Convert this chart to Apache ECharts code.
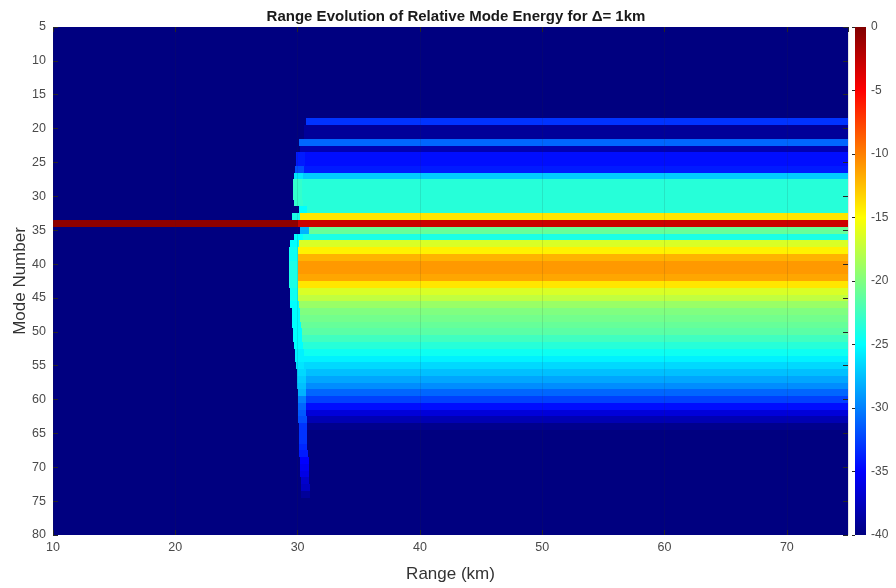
<!DOCTYPE html>
<html>
<head>
<meta charset="utf-8">
<script src="https://cdn.jsdelivr.net/npm/echarts@6/dist/echarts.min.js"></script>
<style>
  html, body { margin: 0; padding: 0; background: #fff; }
  #chart { width: 896px; height: 588px; }
</style>
</head>
<body>
<div id="chart"></div>
<script>
// Mode numbers shown on the vertical axis (one row per mode)
const modeNumbers = [5, 6, 7, 8, 9, 10, 11, 12, 13, 14, 15, 16, 17, 18, 19, 20,
  21, 22, 23, 24, 25, 26, 27, 28, 29, 30, 31, 32, 33, 34, 35, 36, 37, 38, 39, 40,
  41, 42, 43, 44, 45, 46, 47, 48, 49, 50, 51, 52, 53, 54, 55, 56, 57, 58, 59, 60,
  61, 62, 63, 64, 65, 66, 67, 68, 69, 70, 71, 72, 73, 74, 75, 76, 77, 78, 79, 80];

// Relative energy (dB) of each mode once the field has settled past the front
const steadyDb = [-40, -40, -40, -40, -40, -40, -40, -40, -40, -40, -40, -40, -40, -40,
  -33, -39, -39, -31, -38, -34.5, -34.5, -34, -27, -23.5, -23.5, -23.5, -23.5, -23.5,
  -14, -3, -21, -24, -16.5, -14.5, -12, -11, -11, -11.5, -14, -16.5, -17.5, -19,
  -20, -20.5, -21, -21.5, -22.5, -23.5, -24.5, -25.5, -26.5, -27.5, -28.5, -29.5,
  -31, -32.5, -34.5, -36.5, -38, -39.5,
  -40, -40, -40, -40, -40, -40, -40, -40, -40, -40, -40, -40, -40, -40, -40, -40];

// Range (km) at which energy first reaches each mode
const frontKm = [30.3, 30.3, 30.3, 30.3, 30.3, 30.3, 30.3, 30.3, 30.3, 30.3, 30.3, 30.3, 30.3, 30.3,
  30.7, 30.5, 30.5, 30.1, 30.2, 29.9, 29.9, 29.8, 29.7, 29.65, 29.65, 29.65, 29.7, 30.1,
  29.5, 30.0, 30.2, 29.7, 29.4, 29.3, 29.3, 29.3, 29.3, 29.3, 29.3, 29.35, 29.35, 29.4,
  29.5, 29.5, 29.55, 29.65, 29.65, 29.7, 29.8, 29.8, 29.85, 29.95, 29.95, 29.95,
  30.0, 30.0, 30.0, 30.0, 30.05, 30.1, 30.1, 30.1, 30.1, 30.15, 30.2, 30.2, 30.2, 30.25,
  30.3, 30.3, 30.3, 30.3, 30.3, 30.3, 30.3, 30.3];

// Relative energy (dB) right at the front, before the field settles
const frontDb = [-40, -40, -40, -40, -40, -40, -40, -40, -40, -40, -40, -40, -40, -40,
  -33, -39, -39, -31, -38, -34, -34, -32, -26, -23, -23, -23, -23, -25,
  -24, -3, -28, -25, -25, -24.5, -24.5, -24, -24, -24, -24, -24.5, -24.5, -25,
  -25, -25, -25, -25, -25, -25, -25.5, -25.5, -26, -26.5, -27, -27.5,
  -28, -30, -31, -31.5, -32, -33, -33, -33, -33.5, -34, -35, -35.5, -36, -37,
  -37.5, -39, -40, -40, -40, -40, -40, -40];

// Source mode carried from the start of the track, and the empty background level
const launchMode = 34;
const launchDb = -0.5;
const backgroundDb = -40;
const frontWidthKm = 0.7;

// Axis extents and tick labels
const rangeMinKm = 10, rangeMaxKm = 75;
const rangeTicks = [10, 20, 30, 40, 50, 60, 70];
const modeMin = 5, modeMax = 80;
const modeTicks = [5, 10, 15, 20, 25, 30, 35, 40, 45, 50, 55, 60, 65, 70, 75, 80];
const colorTicks = [-40, -35, -30, -25, -20, -15, -10, -5, 0];

// Jet colour map, low to high
const jet = ['#000080', '#0000ff', '#0080ff', '#00ffff', '#80ff80',
             '#ffff00', '#ff8000', '#ff0000', '#800000'];

// One horizontal segment per row span: [rangeStart, rangeEnd, mode, dB]
const segments = [];
modeNumbers.forEach((m, i) => {
  const pre = m === launchMode ? launchDb : backgroundDb;
  const f = frontKm[i];
  segments.push([rangeMinKm, f, m, pre]);
  segments.push([f, f + frontWidthKm, m, frontDb[i]]);
  segments.push([f + frontWidthKm, rangeMaxKm, m, steadyDb[i]]);
});

// Rows are snapped to whole pixels so neighbouring spans meet without seams
function renderSegment(params, api) {
  const a = api.coord([api.value(0), api.value(2) - 0.5]);
  const b = api.coord([api.value(1), api.value(2) + 0.5]);
  const cs = params.coordSys;
  const x0 = Math.round(Math.max(cs.x, Math.min(a[0], b[0])));
  const x1 = Math.round(Math.min(cs.x + cs.width, Math.max(a[0], b[0])));
  const y0 = Math.round(Math.max(cs.y, Math.min(a[1], b[1])));
  const y1 = Math.round(Math.min(cs.y + cs.height, Math.max(a[1], b[1])));
  if (x1 <= x0 || y1 <= y0) return null;
  return {
    type: 'rect',
    shape: { x: x0, y: y0, width: x1 - x0, height: y1 - y0 },
    style: { fill: api.visual('color'), stroke: null, lineWidth: 0 }
  };
}

function renderColorbar(params, api) {
  const a = api.coord([0, colorTicks[0]]);
  const b = api.coord([1, colorTicks[colorTicks.length - 1]]);
  const stops = jet.slice().reverse().map((c, k) => ({ offset: k / (jet.length - 1), color: c }));
  return {
    type: 'rect',
    shape: { x: a[0], y: b[1], width: b[0] - a[0], height: a[1] - b[1] },
    style: { fill: new echarts.graphic.LinearGradient(0, 0, 0, 1, stops), stroke: null }
  };
}

const font = "'Liberation Sans', Arial, Helvetica, sans-serif";
const tickColor = '#4a4a4a';

const chart = echarts.init(document.getElementById('chart'), null, { renderer: 'canvas' });
chart.setOption({
  animation: false,
  backgroundColor: '#ffffff',
  title: {
    text: 'Range Evolution of Relative Mode Energy for \u0394= 1km',
    left: 451,
    textAlign: 'center',
    top: 4,
    textStyle: { fontFamily: font, fontSize: 15, fontWeight: 'bold', color: '#1a1a1a' }
  },
  grid: [
    { left: 53, right: 48, top: 27, bottom: 53, containLabel: false, outerBoundsMode: 'none' },
    { left: 855, width: 11, top: 27, bottom: 53, containLabel: false, outerBoundsMode: 'none' }
  ],
  xAxis: [
    {
      type: 'value', gridIndex: 0, min: rangeMinKm, max: rangeMaxKm, interval: 10, z: 5,
      name: 'Range (km)', nameLocation: 'middle', nameGap: 31, nameMoveOverlap: false,
      nameTextStyle: { fontFamily: font, fontSize: 17, color: '#333' },
      axisLine: { show: false },
      axisTick: { inside: true, length: 5, lineStyle: { color: '#262626' } },
      axisLabel: {
        fontFamily: font, fontSize: 12.5, color: tickColor, margin: 6, showMaxLabel: false,
        formatter: v => (rangeTicks.indexOf(v) >= 0 ? String(v) : '')
      },
      splitLine: { show: true, lineStyle: { color: 'rgba(38,38,38,0.12)', width: 1 } }
    },
    {
      type: 'value', gridIndex: 0, position: 'top', min: rangeMinKm, max: rangeMaxKm, interval: 10, z: 5,
      axisLine: { show: false },
      axisTick: { inside: true, length: 5, lineStyle: { color: '#262626' } },
      axisLabel: { show: false },
      splitLine: { show: false }
    },
    { type: 'value', gridIndex: 1, min: 0, max: 1, show: false, splitLine: { show: false } }
  ],
  yAxis: [
    {
      type: 'value', gridIndex: 0, inverse: true, min: modeMin, max: modeMax, interval: 5, z: 5,
      name: 'Mode Number', nameLocation: 'middle', nameGap: 24, nameMoveOverlap: false,
      nameTextStyle: { fontFamily: font, fontSize: 17, color: '#333' },
      axisLine: { show: false },
      axisTick: { inside: true, length: 5, lineStyle: { color: '#262626' } },
      axisLabel: {
        fontFamily: font, fontSize: 12.5, color: tickColor, margin: 7,
        formatter: v => (modeTicks.indexOf(v) >= 0 ? String(v) : '')
      },
      splitLine: { show: false }
    },
    {
      type: 'value', gridIndex: 0, position: 'right', inverse: true, min: modeMin, max: modeMax, interval: 5, z: 5,
      axisLine: { show: false },
      axisTick: { inside: true, length: 5, lineStyle: { color: '#262626' } },
      axisLabel: { show: false },
      splitLine: { show: false }
    },
    {
      type: 'value', gridIndex: 1, position: 'right', min: -40, max: 0, interval: 5, z: 5,
      axisLine: { show: false },
      axisTick: { inside: true, length: 3, lineStyle: { color: '#262626' } },
      axisLabel: {
        fontFamily: font, fontSize: 12, color: tickColor, margin: 5,
        formatter: v => (colorTicks.indexOf(v) >= 0 ? String(v) : '')
      },
      splitLine: { show: false }
    }
  ],
  visualMap: {
    type: 'continuous', show: false, seriesIndex: 0, dimension: 3,
    min: -40, max: 0, inRange: { color: jet }
  },
  series: [
    {
      type: 'custom', xAxisIndex: 0, yAxisIndex: 0,
      dimensions: ['from', 'to', 'mode', 'dB'],
      encode: { x: [0, 1], y: 2 },
      renderItem: renderSegment,
      data: segments,
      silent: true
    },
    {
      type: 'custom', xAxisIndex: 2, yAxisIndex: 2,
      encode: { x: [0, 2], y: [1, 3] },
      renderItem: renderColorbar,
      data: [[0, -40, 1, 0]],
      silent: true
    }
  ]
});
</script>
</body>
</html>
